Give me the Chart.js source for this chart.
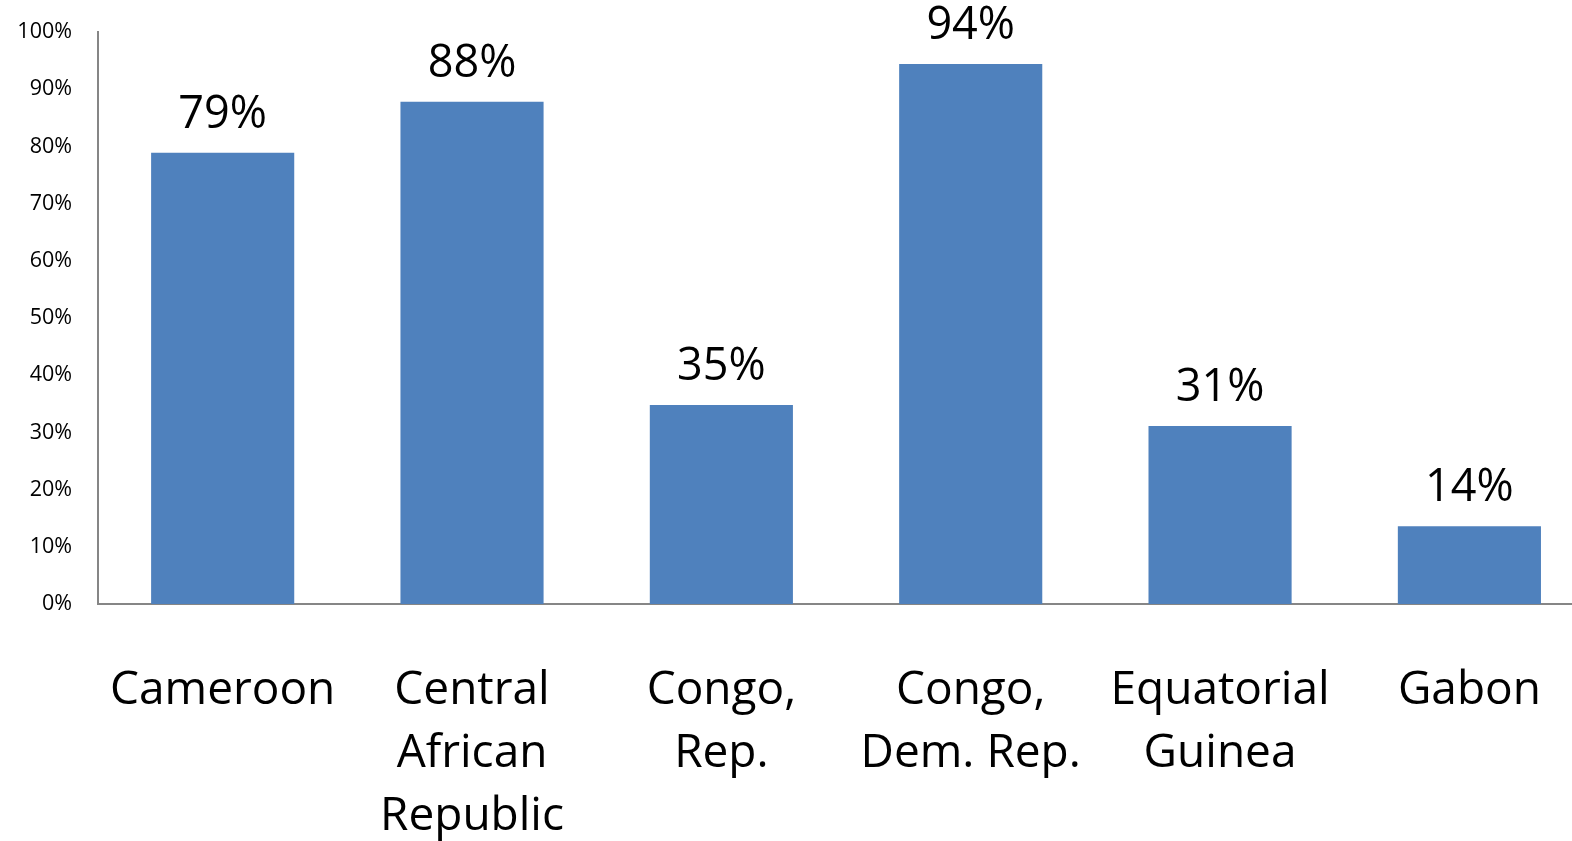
<!DOCTYPE html>
<html>
<head>
<meta charset="utf-8">
<script src="https://cdn.jsdelivr.net/npm/chart.js@4.4.0/dist/chart.umd.min.js"></script>
<style>
  html, body { margin: 0; padding: 0; background: #fff; overflow: hidden; }
  #wrap { width: 1596px; height: 841px; }
</style>
</head>
<body>
<div id="wrap"><canvas id="barChart" width="1596" height="841"></canvas></div>
<script>
// --- data
const countries = [
  "Cameroon",
  ["Central", "African", "Republic"],
  ["Congo,", "Rep."],
  ["Congo,", "Dem. Rep."],
  ["Equatorial", "Guinea"],
  "Gabon"
];
const shares = [78.9, 87.8, 34.8, 94.4, 31.1, 13.6];
const yTicks = [0, 10, 20, 30, 40, 50, 60, 70, 80, 90, 100];

const FONT = "'Open Sans', Lato, sans-serif";

// --- plugin: angka persen di atas bar
const valueLabels = {
  id: 'valueLabels',
  afterDatasetsDraw(chart) {
    const { ctx } = chart;
    const meta = chart.getDatasetMeta(0);
    ctx.save();
    ctx.font = '45px ' + FONT;
    ctx.fillStyle = '#000';
    ctx.textAlign = 'center';
    ctx.textBaseline = 'alphabetic';
    meta.data.forEach((bar, i) => {
      ctx.fillText(Math.round(shares[i]) + '%', bar.x, bar.y - 25);
    });
    ctx.restore();
  }
};

window.addEventListener("load", () => {
  const ctx = document.getElementById("barChart").getContext("2d");
  new Chart(ctx, {
    type: "bar",
    data: {
      labels: countries,
      datasets: [{
        data: shares,
        backgroundColor: "#4F81BD",
        borderWidth: 0,
        barPercentage: 1,
        categoryPercentage: 0.574
      }]
    },
    options: {
      responsive: false,
      animation: false,
      layout: { padding: { top: 32, right: 1, left: 1, bottom: 0 } },
      plugins: { legend: { display: false }, tooltip: { enabled: false } },
      scales: {
        x: {
          grid: { display: false, drawTicks: false },
          border: { color: "#868686", width: 2 },
          ticks: {
            color: "#000",
            font: { family: FONT, size: 46, lineHeight: 1.37 },
            padding: 55,
            maxRotation: 0,
            autoSkip: false
          },
          afterFit(scale) { scale.height = 841 - 604; }
        },
        y: {
          min: 0,
          max: 100,
          afterBuildTicks(scale) { scale.ticks = yTicks.map(v => ({ value: v })); },
          grid: { display: false, drawTicks: false },
          border: { color: "#868686", width: 2 },
          ticks: {
            color: "#000",
            font: { family: FONT, size: 21.5 },
            padding: 26,
            callback: v => v + "%"
          },
          afterFit(scale) {
            scale.width = 97;
            scale.paddingTop = 0;
            scale.paddingBottom = 0;
          }
        }
      }
    },
    plugins: [valueLabels]
  });
});
</script>
</body>
</html>
